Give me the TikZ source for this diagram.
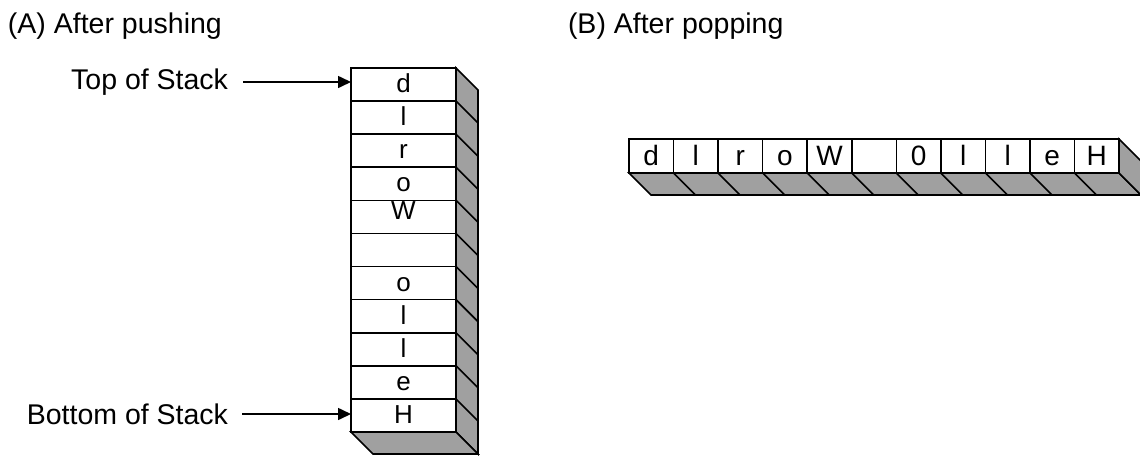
\documentclass[tikz,border=0pt]{standalone}
\usepackage{fontspec}
\setmainfont{Liberation Sans}
\usetikzlibrary{arrows.meta}
\definecolor{facegray}{RGB}{160,160,160}
\begin{document}
\begin{tikzpicture}[x=1pt,y=-1pt,
  every node/.style={inner sep=0pt, outer sep=0pt},
  txt/.style={font=\fontsize{28.5}{30}\selectfont},
  cellA/.style={draw=black, fill=white, line width=1.6pt,
    minimum width=105pt, minimum height=33.09pt,
    text height=16.5pt, text depth=0.5pt, font=\fontsize{26}{28}\selectfont},
  cellB/.style={draw=black, fill=white, line width=1.6pt,
    minimum width=44.55pt, minimum height=34pt,
    text height=19pt, text depth=1pt, font=\fontsize{28}{30}\selectfont},
  face/.style={fill=facegray, draw=black, line width=1.6pt, line join=miter},
  hatch/.style={draw=black, line width=1.6pt},
  ptr/.style={draw=black, line width=1.6pt, -{Triangle[length=13pt,width=12pt]}}
]
\useasboundingbox (0,0) rectangle (1140,455);

% headings
\node[txt, anchor=base west] (headA) at (8,33) {(A) After pushing};
\node[txt, anchor=base west] (headB) at (568,33) {(B) After popping};

% (A) the stack, top to bottom
\foreach \t [count=\i] in {d,l,r,o,{\raisebox{5pt}{W}},{},o,l,l,e,H}
  \node[cellA] (a\i) at (403.5,{68+33.09*(\i-0.5)}) {\t};

% (A) right and bottom faces
\path[face] (a1.north east) -- ([shift={(22,22)}]a1.north east)
  -- ([shift={(22,22)}]a11.south east) -- (a11.south east) -- cycle;
\path[face] (a11.south west) -- (a11.south east)
  -- ([shift={(22,22)}]a11.south east) -- ([shift={(22,22)}]a11.south west) -- cycle;
\foreach \i in {1,...,10}
  \draw[hatch] (a\i.south east) -- ([shift={(22,22)}]a\i.south east);

% (A) pointers
\node[txt, anchor=east] (toplbl) at (228,82) {Top of Stack};
\node[txt, anchor=east] (botlbl) at (228,414) {Bottom of Stack};
\draw[ptr] ([xshift=15pt]toplbl.east) -- (toplbl.east -| a1.west);
\draw[ptr] ([xshift=14pt]botlbl.east) -- (botlbl.east -| a11.west);

% (B) the row, left to right
\foreach \t [count=\i] in {d,l,r,o,W,{},0,l,l,e,H}
  \node[cellB] (b\i) at ({629+44.55*(\i-0.5)},156) {\t};

% (B) bottom and right faces
\path[face] (b1.south west) -- (b11.south east)
  -- ([shift={(22,22)}]b11.south east) -- ([shift={(22,22)}]b1.south west) -- cycle;
\path[face] (b11.north east) -- ([shift={(22,22)}]b11.north east)
  -- ([shift={(22,22)}]b11.south east) -- (b11.south east) -- cycle;
\foreach \i in {1,...,10}
  \draw[hatch] (b\i.south east) -- ([shift={(22,22)}]b\i.south east);
\end{tikzpicture}
\end{document}
